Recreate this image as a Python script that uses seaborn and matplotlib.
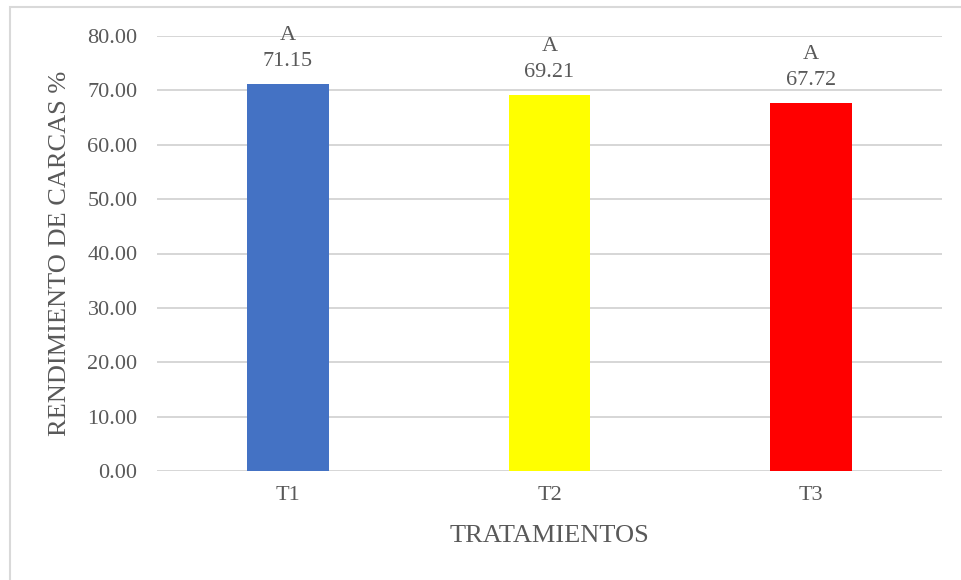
import matplotlib
matplotlib.use("Agg")
import matplotlib.pyplot as plt
import seaborn as sns
import pandas as pd
from matplotlib.patches import Rectangle

categories = ["T1", "T2", "T3"]
values = [71.15, 69.21, 67.72]
letters = ["A", "A", "A"]
colors = ["#4472C4", "#FFFF00", "#FF0000"]
yticks = [0, 10, 20, 30, 40, 50, 60, 70, 80]
xlabel = "TRATAMIENTOS"
ylabel = "RENDIMIENTO DE CARCAS %"

sns.set_theme(style="white")
plt.rcParams["font.family"] = ["Liberation Serif", "DejaVu Serif"]

W, H = 961, 580
fig = plt.figure(figsize=(W / 100, H / 100), dpi=100)
fig.patch.set_facecolor("white")
ax = fig.add_axes([157 / W, 1 - 471 / H, (942 - 157) / W, (471 - 36) / H])

df = pd.DataFrame({"cat": categories, "val": values})
sns.barplot(data=df, x="cat", y="val", hue="cat", palette=colors,
            width=0.313, legend=False, ax=ax, saturation=1, zorder=3,
            linewidth=0)

ax.set_xlim(-0.5, 2.5)
ax.set_ylim(0, 80)
ax.set_yticks(yticks)
ax.set_yticklabels([f"{v:.2f}" for v in yticks])
txtc = "#595959"
ax.tick_params(axis="y", length=0, pad=14, labelsize=16, labelcolor=txtc)
ax.tick_params(axis="x", length=0, pad=11, labelsize=16, labelcolor=txtc)
ax.grid(axis="y", color="#D6D6D6", linewidth=1.4, zorder=0)
ax.set_axisbelow(True)
for s in ["top", "right", "left", "bottom"]:
    ax.spines[s].set_visible(False)

ax.set_xlabel(xlabel, fontsize=19, color=txtc)
ax.set_ylabel(ylabel, fontsize=19, color=txtc)
ax.xaxis.set_label_coords(0.5, (471 - 536) / 435)
ax.xaxis.label.set_va("center")
ax.yaxis.set_label_coords((60 - 157) / 785, 0.5)
ax.yaxis.label.set_va("center")

for i, (v, l) in enumerate(zip(values, letters)):
    ax.annotate(f"{v:.2f}", (i, v), xytext=(0, 13), textcoords="offset points",
                ha="center", va="baseline", fontsize=16, color=txtc)
    ax.annotate(l, (i, v), xytext=(0, 31.7), textcoords="offset points",
                ha="center", va="baseline", fontsize=16, color=txtc)

fig.patches.append(Rectangle((10 / W, -0.1), 1.2, 1.1 - 7 / H,
                             transform=fig.transFigure, fill=False,
                             edgecolor="#D9D9D9", linewidth=1.5, zorder=0))

fig.savefig("out.png", dpi=100)
